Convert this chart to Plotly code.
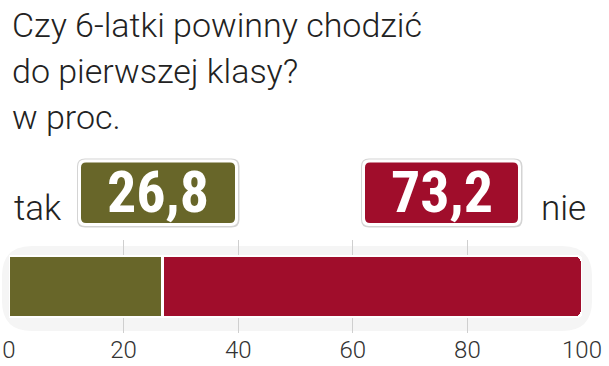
import plotly.graph_objects as go

categories = ["tak", "nie"]
values = [26.8, 73.2]
value_labels = ["26,8", "73,2"]
colors = ["#686629", "#a00d2b"]
tick_vals = [0, 20, 40, 60, 80, 100]
tick_text = ["0", "20", "40", "60", "80", "100"]
title_lines = ["Czy 6-latki powinny chodzić", "do pierwszej klasy?", "w proc."]

W, H = 609, 366
L, R, T, B = 9, 27, 0, 33
PW = W - L - R
PH = H - T - B
PLOT_TOP = 240  # pixel top of bar area


def px(p):
    return (p - L) / PW


def py(p):
    return (H - B - p) / PH


def rounded(x0p, y0p, x1p, y1p, r):
    # pixel rect -> paper-space rounded path
    a, c = px(x0p), px(x1p)
    b, d = py(y1p), py(y0p)  # b bottom, d top
    rx, ry = r / PW, r / PH
    return (f"M {a+rx},{b} L {c-rx},{b} Q {c},{b} {c},{b+ry} "
            f"L {c},{d-ry} Q {c},{d} {c-rx},{d} L {a+rx},{d} "
            f"Q {a},{d} {a},{d-ry} L {a},{b+ry} Q {a},{b} {a+rx},{b} Z")


fig = go.Figure()
for c, v, col in zip(categories, values, colors):
    fig.add_trace(go.Bar(
        x=[v], y=["a"], orientation="h", name=c,
        marker=dict(color=col, line=dict(color="white", width=2.5)),
        hoverinfo="skip",
    ))

thin = "Roboto"
shapes = []
annotations = []

# soft shadow behind bar
shapes.append(dict(type="path", xref="paper", yref="paper", layer="below",
                   path=rounded(2, 246, 592, 331, 30),
                   fillcolor="#f5f5f5", line=dict(width=0)))

boxes = [(78, 238), (362, 521)]
for (bx0, bx1), col, lab in zip(boxes, colors, value_labels):
    shapes.append(dict(type="path", xref="paper", yref="paper",
                       path=rounded(bx0 - 1, 158.5, bx1 + 1.5, 227.5, 8),
                       fillcolor="#d4d4d4", line=dict(width=0)))
    shapes.append(dict(type="path", xref="paper", yref="paper",
                       path=rounded(bx0, 159.5, bx1, 226, 7),
                       fillcolor="white", line=dict(width=0)))
    shapes.append(dict(type="path", xref="paper", yref="paper",
                       path=rounded(bx0 + 3, 162.5, bx1 - 3, 223, 5),
                       fillcolor=col, line=dict(width=0)))
    annotations.append(dict(xref="paper", yref="paper", x=px((bx0 + bx1) / 2),
                            y=py(192), text=f"<b>{lab}</b>", showarrow=False,
                            xanchor="center", yanchor="middle",
                            font=dict(family="Roboto Condensed, Roboto",
                                      size=58, color="white", weight=700)))

annotations.append(dict(xref="paper", yref="paper", x=px(12), y=py(209),
                        text=categories[0], showarrow=False, xanchor="left",
                        yanchor="middle",
                        font=dict(family=thin, size=35, color="#222222", weight=300)))
annotations.append(dict(xref="paper", yref="paper", x=px(588), y=py(209),
                        text=categories[1], showarrow=False, xanchor="right",
                        yanchor="middle",
                        font=dict(family=thin, size=35, color="#222222", weight=300)))

for i, line in enumerate(title_lines):
    annotations.append(dict(xref="paper", yref="paper", x=px(10), y=py(25 + 46 * i),
                            text=line, showarrow=False, xanchor="left",
                            yanchor="middle",
                            font=dict(family=thin, size=34, color="#222222", weight=300)))

fig.update_layout(
    width=W, height=H,
    margin=dict(l=L, r=R, t=T, b=B, autoexpand=False),
    barmode="stack",
    bargap=0.34,
    barcornerradius=6,
    showlegend=False,
    plot_bgcolor="rgba(0,0,0,0)",
    paper_bgcolor="white",
    xaxis=dict(range=[0, 100], tickvals=tick_vals, ticktext=tick_text,
               showgrid=True, gridcolor="#cfcfcf", gridwidth=1, zeroline=False,
               showline=False, ticks="", ticklabelstandoff=0, automargin=False,
               tickfont=dict(family=thin, size=24, color="#333333", weight=300),
               fixedrange=True),
    yaxis=dict(visible=False, fixedrange=True, automargin=False,
               domain=[0, (H - B - PLOT_TOP) / PH]),
    shapes=shapes,
    annotations=annotations,
)

fig.write_html("out.html")
